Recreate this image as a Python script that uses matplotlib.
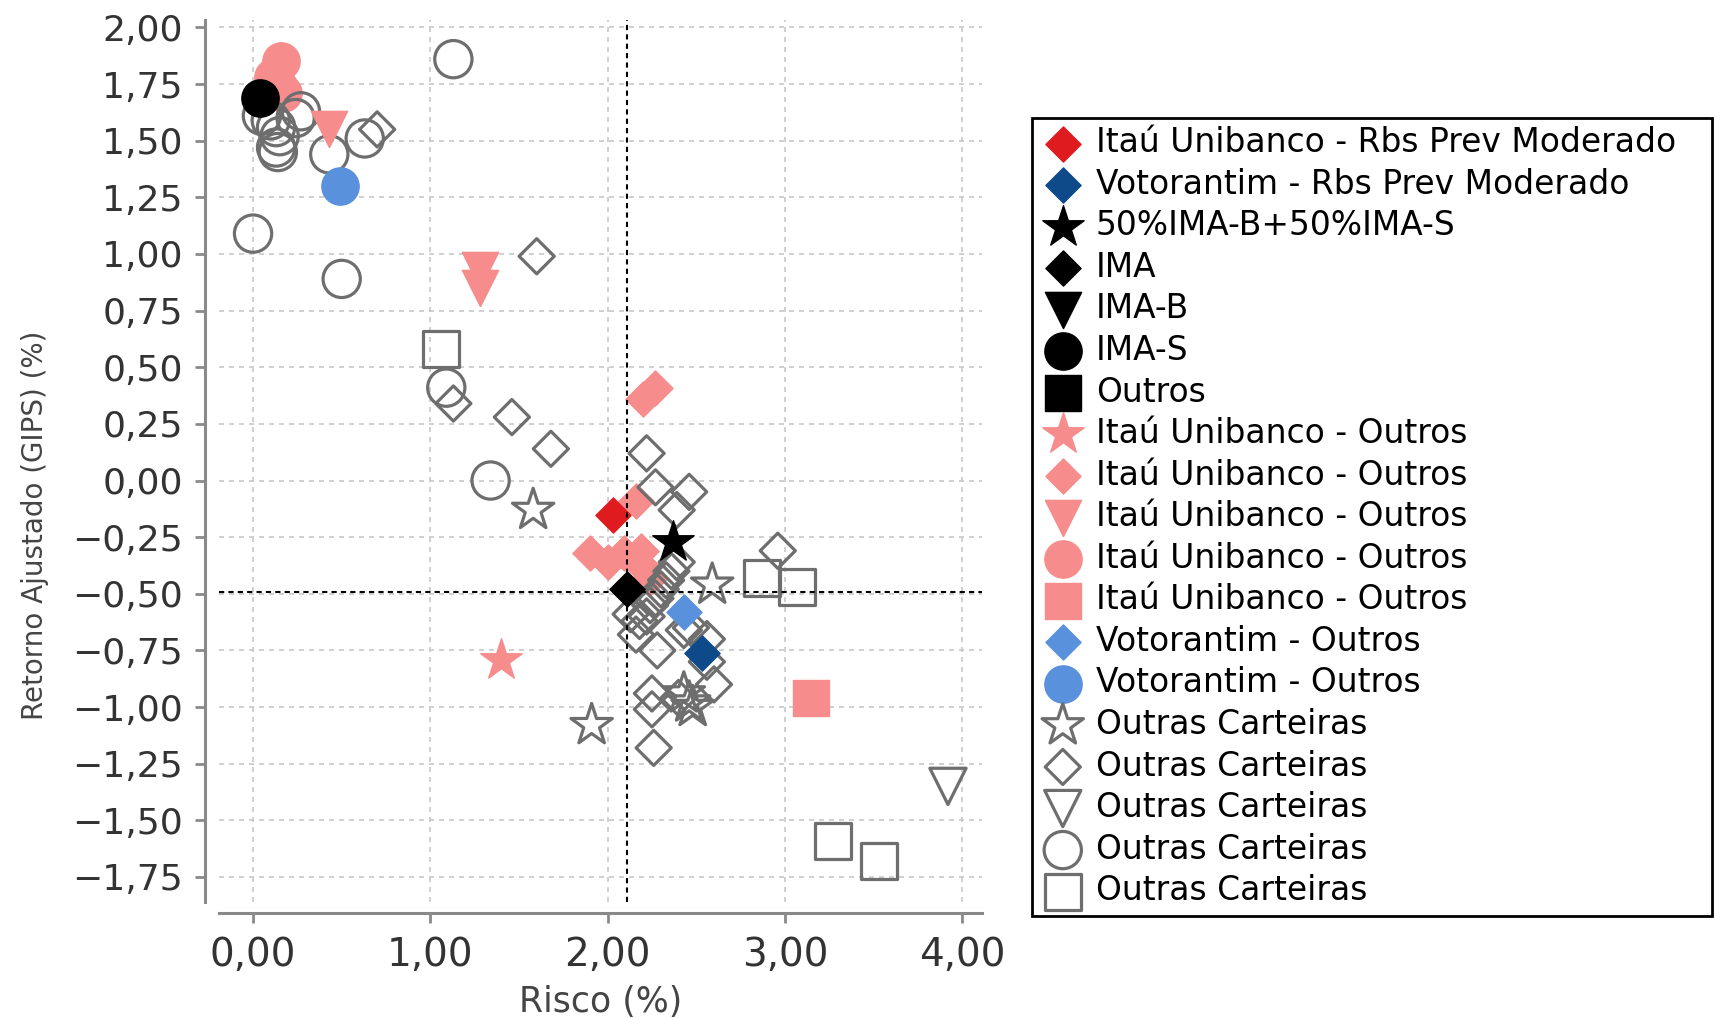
import matplotlib
matplotlib.use("Agg")
import matplotlib.pyplot as plt
from matplotlib.ticker import FuncFormatter, MultipleLocator

plt.rcParams["font.family"] = ["DejaVu Sans"]

# ---------- dados (Risco %, Retorno Ajustado %) ----------
itau_rbs_x, itau_rbs_y = [2.03], [-0.15]
voto_rbs_x, voto_rbs_y = [2.53], [-0.76]
mix_x, mix_y = [2.37], [-0.27]          # 50%IMA-B+50%IMA-S
ima_x, ima_y = [2.11], [-0.48]
imab_x, imab_y = [], []
imas_x, imas_y = [0.04], [1.69]
outros_x, outros_y = [], []

itau_star_x, itau_star_y = [1.40], [-0.79]
itau_dia_x = [2.27, 2.20, 2.16, 1.90, 2.00, 2.09, 2.19, 2.18, 2.24]
itau_dia_y = [0.41, 0.36, -0.09, -0.32, -0.36, -0.32, -0.31, -0.37, -0.43]
itau_tri_x, itau_tri_y = [0.43, 1.28, 1.28], [1.55, 0.93, 0.85]
itau_circ_x = [0.16, 0.11, 0.14, 0.17]
itau_circ_y = [1.85, 1.78, 1.74, 1.71]
itau_sq_x, itau_sq_y = [3.15], [-0.96]
voto_dia_x, voto_dia_y = [2.43], [-0.58]
voto_circ_x, voto_circ_y = [0.49], [1.30]

out_star_x = [1.58, 1.91, 2.59, 2.43, 2.46, 2.48]
out_star_y = [-0.13, -1.08, -0.46, -0.94, -0.98, -1.00]
out_dia_x = [0.70, 1.60, 1.13, 1.46, 1.68, 2.22, 2.27, 2.46, 2.39, 2.96,
             2.39, 2.36, 2.33, 2.30, 2.27, 2.24, 2.13, 2.18, 2.16, 2.22,
             2.28, 2.43, 2.47, 2.56, 2.56, 2.60, 2.25, 2.25, 2.26, 2.40]
out_dia_y = [1.55, 0.99, 0.34, 0.28, 0.14, 0.12, -0.03, -0.05, -0.13, -0.31,
             -0.36, -0.40, -0.44, -0.48, -0.52, -0.55, -0.59, -0.62, -0.68, -0.60,
             -0.75, -0.66, -0.65, -0.70, -0.80, -0.90, -0.94, -1.01, -1.18, -0.96]
out_tri_x, out_tri_y = [3.92], [-1.35]
out_circ_x = [1.13, 0.00, 0.50, 0.43, 0.63, 0.27, 0.24, 0.05, 0.10, 0.13,
              0.15, 0.13, 0.14, 1.09, 1.34]
out_circ_y = [1.86, 1.09, 0.89, 1.44, 1.51, 1.63, 1.60, 1.61, 1.59, 1.56,
              1.52, 1.47, 1.45, 0.41, 0.00]
out_sq_x = [1.06, 2.87, 3.07, 3.27, 3.53]
out_sq_y = [0.58, -0.43, -0.47, -1.59, -1.68]

# linhas de referência (IMA)
ref_risco, ref_retorno = 2.11, -0.49

RED, DBLUE, PINK, LBLUE, GRAY = "#e01b1f", "#0e4a8a", "#f78c8c", "#5a91dc", "#6e6e6e"

fig = plt.figure(figsize=(17.15, 10.18), dpi=100)
ax = fig.add_axes([0.1276, 0.1136, 0.4451, 0.867])

S = {"o": 720, "s": 680, "D": 320, "v": 680, "*": 980}

def filled(x, y, m, c, label, z):
    return ax.scatter(x, y, s=S[m], marker=m, c=c, edgecolors=c, linewidths=1,
                      label=label, zorder=z)

def hollow(x, y, m, label, z=3):
    return ax.scatter(x, y, s=S[m], marker=m, facecolors="none", edgecolors=GRAY,
                      linewidths=2.3, label=label, zorder=z)

h = {}
h["a"] = filled(itau_rbs_x, itau_rbs_y, "D", RED, "Itaú Unibanco - Rbs Prev Moderado", 5)
h["b"] = filled(voto_rbs_x, voto_rbs_y, "D", DBLUE, "Votorantim - Rbs Prev Moderado", 5)
h["c"] = filled(mix_x, mix_y, "*", "black", "50%IMA-B+50%IMA-S", 6)
h["d"] = filled(ima_x, ima_y, "D", "black", "IMA", 6)
h["e"] = filled(imab_x, imab_y, "v", "black", "IMA-B", 6)
h["f"] = filled(imas_x, imas_y, "o", "black", "IMA-S", 6)
h["g"] = filled(outros_x, outros_y, "s", "black", "Outros", 6)
h["h"] = filled(itau_star_x, itau_star_y, "*", PINK, "Itaú Unibanco - Outros", 2)
h["i"] = filled(itau_dia_x, itau_dia_y, "D", PINK, "Itaú Unibanco - Outros", 2)
h["j"] = filled(itau_tri_x, itau_tri_y, "v", PINK, "Itaú Unibanco - Outros", 4)
h["k"] = filled(itau_circ_x, itau_circ_y, "o", PINK, "Itaú Unibanco - Outros", 2)
h["l"] = filled(itau_sq_x, itau_sq_y, "s", PINK, "Itaú Unibanco - Outros", 2)
h["m"] = filled(voto_dia_x, voto_dia_y, "D", LBLUE, "Votorantim - Outros", 4)
h["n"] = filled(voto_circ_x, voto_circ_y, "o", LBLUE, "Votorantim - Outros", 4)
h["o"] = hollow(out_star_x, out_star_y, "*", "Outras Carteiras")
h["p"] = hollow(out_dia_x, out_dia_y, "D", "Outras Carteiras")
h["q"] = hollow(out_tri_x, out_tri_y, "v", "Outras Carteiras")
h["r"] = hollow(out_circ_x, out_circ_y, "o", "Outras Carteiras")
h["s"] = hollow(out_sq_x, out_sq_y, "s", "Outras Carteiras")

ax.axvline(ref_risco, color="black", lw=1.5, ls=(0, (2.5, 2)), zorder=7)
ax.axhline(ref_retorno, color="black", lw=1.5, ls=(0, (2.5, 2)), zorder=7)

ax.set_xlim(-0.193, 4.113)
ax.set_ylim(-1.862, 2.034)
ax.xaxis.set_major_locator(MultipleLocator(1.0))
ax.yaxis.set_major_locator(MultipleLocator(0.25))
fmt = FuncFormatter(lambda v, p: f"{v:.2f}".replace(".", ",").replace("-", "\u2212"))
ax.xaxis.set_major_formatter(fmt)
ax.yaxis.set_major_formatter(fmt)

ax.grid(True, color="#c8c8c8", lw=1.2, ls=(0, (3, 3)), zorder=0)
ax.set_axisbelow(True)

for sp in ("top", "right"):
    ax.spines[sp].set_visible(False)
ax.spines["left"].set_position(("outward", 10))
ax.spines["bottom"].set_position(("outward", 8))
for sp in ("left", "bottom"):
    ax.spines[sp].set_color("#8a8a8a")
    ax.spines[sp].set_linewidth(2.2)

ax.tick_params(axis="both", direction="out", length=7, width=2, color="#8a8a8a",
               labelcolor="#333333", pad=9)
ax.tick_params(axis="y", labelsize=26)
ax.tick_params(axis="x", labelsize=28)

ax.set_xlabel("Risco (%)", fontsize=25, color="#444444", labelpad=8)
ax.set_ylabel("Retorno Ajustado (GIPS) (%)", fontsize=20, color="#444444")
ax.yaxis.set_label_coords(-0.222, 0.4276)

# legenda: caixa da direita, de x=1031 a 1712 px, topo em y=118 px
lx0, lx1, ltop, lbot = 1031.5, 1712.0, 118.0, 913.3
leg = ax.legend(handles=list(h.values()), loc="upper left", mode="expand",
                bbox_to_anchor=(lx0 / 1715, 1 - lbot / 1018,
                                (lx1 - lx0) / 1715, (lbot - ltop) / 1018),
                bbox_transform=fig.transFigure, borderaxespad=0,
                fontsize=23.7, scatterpoints=1, frameon=True, fancybox=False,
                framealpha=1, edgecolor="black", labelspacing=0.26,
                handlelength=1.4, handletextpad=0.3, borderpad=0.25)
leg.get_frame().set_linewidth(2)

fig.savefig("out.png", dpi=100, facecolor="white")
